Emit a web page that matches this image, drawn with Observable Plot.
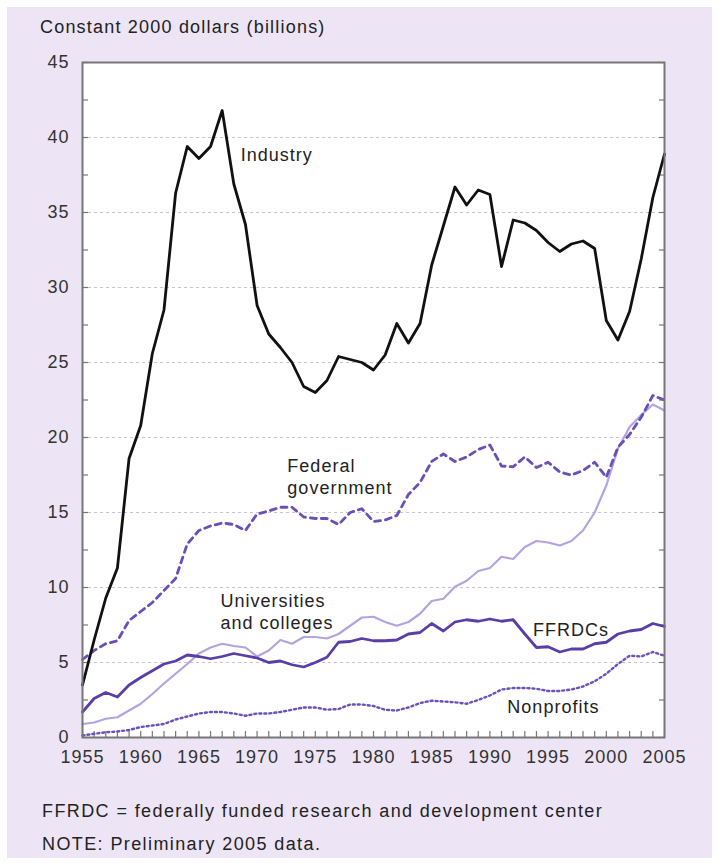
<!DOCTYPE html>
<html>
<head>
<meta charset="utf-8">
<script src="https://cdn.jsdelivr.net/npm/d3@7"></script>
<script src="https://cdn.jsdelivr.net/npm/@observablehq/plot@0.6"></script>
<style>
  html, body { margin: 0; padding: 0; background: #ffffff; }
  #page { position: relative; width: 717px; height: 863px; font-family: "Liberation Sans", Arial, Helvetica, sans-serif; color: #222; }
  #panel { position: absolute; left: 7px; top: 7px; width: 705px; height: 851px; background: #ede5f5; }
  #title { position: absolute; left: 40px; top: 17px; font-size: 18px; letter-spacing: 1.2px; white-space: nowrap; }
  #chart { position: absolute; left: 0; top: 40px; }
  #chart svg text { letter-spacing: 1px; }
  .note { position: absolute; left: 42px; font-size: 18px; letter-spacing: 1.4px; white-space: nowrap; }
</style>
</head>
<body>
<div id="page">
  <div id="panel"></div>
  <div id="title">Constant 2000 dollars (billions)</div>
  <div id="chart"></div>
  <div class="note" style="top:801px">FFRDC = federally funded research and development center</div>
  <div class="note" style="top:834px">NOTE: Preliminary 2005 data.</div>
</div>
<script>
const years = d3.range(1955, 2006);

const industry = [3.5, 6.5, 9.3, 11.3, 18.6, 20.8, 25.6, 28.5, 36.3, 39.4,
  38.6, 39.4, 41.8, 36.9, 34.2, 28.8, 26.9, 26.0, 25.0, 23.4,
  23.0, 23.8, 25.4, 25.2, 25.0, 24.5, 25.5, 27.6, 26.3, 27.6,
  31.5, 34.1, 36.7, 35.5, 36.5, 36.2, 31.4, 34.5, 34.3, 33.8,
  33.0, 32.4, 32.9, 33.1, 32.6, 27.8, 26.5, 28.4, 31.9, 36.0, 38.9];

const federal = [5.2, 5.8, 6.25, 6.45, 7.8, 8.4, 9.0, 9.8, 10.6, 12.9,
  13.8, 14.1, 14.3, 14.2, 13.8, 14.9, 15.1, 15.35, 15.35, 14.7,
  14.6, 14.6, 14.2, 15.0, 15.25, 14.4, 14.5, 14.8, 16.2, 17.0,
  18.4, 18.9, 18.4, 18.7, 19.2, 19.5, 18.1, 18.05, 18.7, 18.0,
  18.35, 17.7, 17.5, 17.8, 18.35, 17.35, 19.35, 20.2, 21.35, 22.8, 22.5];

const universities = [0.9, 1.0, 1.25, 1.35, 1.8, 2.25, 2.9, 3.6, 4.25, 4.9,
  5.6, 6.0, 6.25, 6.1, 6.0, 5.4, 5.8, 6.5, 6.25, 6.7,
  6.7, 6.6, 6.9, 7.45, 8.0, 8.05, 7.7, 7.45, 7.7, 8.25,
  9.1, 9.25, 10.05, 10.45, 11.1, 11.3, 12.05, 11.9, 12.7, 13.1,
  13.0, 12.8, 13.1, 13.8, 15.0, 16.8, 19.25, 20.7, 21.5, 22.2, 21.8];

const ffrdcs = [1.7, 2.6, 3.0, 2.7, 3.5, 4.0, 4.45, 4.9, 5.1, 5.5,
  5.4, 5.25, 5.4, 5.6, 5.45, 5.3, 5.0, 5.1, 4.85, 4.7,
  5.0, 5.35, 6.35, 6.4, 6.6, 6.45, 6.45, 6.5, 6.9, 7.0,
  7.6, 7.1, 7.7, 7.85, 7.75, 7.9, 7.75, 7.85, 6.9, 6.0,
  6.05, 5.7, 5.9, 5.9, 6.25, 6.35, 6.9, 7.1, 7.2, 7.6, 7.4];

const nonprofits = [0.13, 0.25, 0.35, 0.4, 0.5, 0.7, 0.8, 0.9, 1.2, 1.4,
  1.6, 1.7, 1.7, 1.6, 1.45, 1.6, 1.6, 1.7, 1.85, 2.0,
  2.0, 1.85, 1.9, 2.2, 2.2, 2.1, 1.85, 1.8, 2.0, 2.3,
  2.45, 2.4, 2.35, 2.25, 2.5, 2.8, 3.2, 3.3, 3.3, 3.25,
  3.1, 3.1, 3.2, 3.4, 3.75, 4.25, 4.9, 5.45, 5.4, 5.7, 5.45];

const yTicks = [0, 5, 10, 15, 20, 25, 30, 35, 40, 45];
const yGrid = [5, 10, 15, 20, 25, 30, 35, 40];
const yMinor = d3.range(0, 45.01, 2.5);
const xLabels = [1955, 1960, 1965, 1970, 1975, 1980, 1985, 1990, 1995, 2000, 2005];

const labels = [
  {x: 1968.6, y: 38.93, text: "Industry"},
  {x: 1972.6, y: 17.45, text: "Federal\ngovernment"},
  {x: 1966.85, y: 8.45, text: "Universities\nand colleges"},
  {x: 1993.7, y: 7.25, text: "FFRDCs"},
  {x: 1991.5, y: 2.1, text: "Nonprofits"}
];

const toRows = (vals) => years.map((yr, i) => ({year: yr, value: vals[i]}));

const chart = Plot.plot({
  width: 717,
  height: 740,
  marginLeft: 82,
  marginRight: 53,
  marginTop: 22,
  marginBottom: 43,
  style: {background: "transparent", fontFamily: "Liberation Sans, Arial, sans-serif", fontSize: "18px", color: "#333"},
  x: {domain: [1955, 2005]},
  y: {domain: [0, 45]},
  marks: [
    Plot.frame({fill: "white", stroke: "none"}),
    Plot.ruleY(yGrid, {stroke: "#c9c1de", strokeWidth: 1, strokeDasharray: "3,3"}),
    Plot.axisY({ticks: yMinor, tickSize: -6, tickFormat: () => "", stroke: "#777", strokeWidth: 1.2, label: null}),
    Plot.axisY({anchor: "right", ticks: yMinor, tickSize: -6, tickFormat: () => "", stroke: "#777", strokeWidth: 1.2, label: null}),
    Plot.axisY({ticks: yTicks, tickSize: 0, tickPadding: 13, label: null, fill: "#333", fontSize: 18}),
    Plot.axisX({ticks: years, tickSize: -6, tickFormat: () => "", stroke: "#777", strokeWidth: 1.2, label: null}),
    Plot.axisX({ticks: xLabels, tickSize: 0, tickPadding: 13, tickFormat: d => String(d), label: null, fill: "#333", fontSize: 18}),
    Plot.line(toRows(nonprofits), {x: "year", y: "value", stroke: "#6a52b8", strokeWidth: 2.4, strokeDasharray: "2,3"}),
    Plot.line(toRows(universities), {x: "year", y: "value", stroke: "#b3a4df", strokeWidth: 2.2}),
    Plot.line(toRows(ffrdcs), {x: "year", y: "value", stroke: "#5a3ea8", strokeWidth: 2.8}),
    Plot.line(toRows(federal), {x: "year", y: "value", stroke: "#6a4fb6", strokeWidth: 2.8, strokeDasharray: "6,5"}),
    Plot.line(toRows(industry), {x: "year", y: "value", stroke: "#111", strokeWidth: 2.8}),
    Plot.frame({stroke: "#777", strokeWidth: 2}),
    Plot.text(labels, {x: "x", y: "y", text: "text", textAnchor: "start", lineAnchor: "middle", fill: "#222", fontSize: 18, lineHeight: 1.27})
  ]
});
document.getElementById("chart").appendChild(chart);
</script>
</body>
</html>
